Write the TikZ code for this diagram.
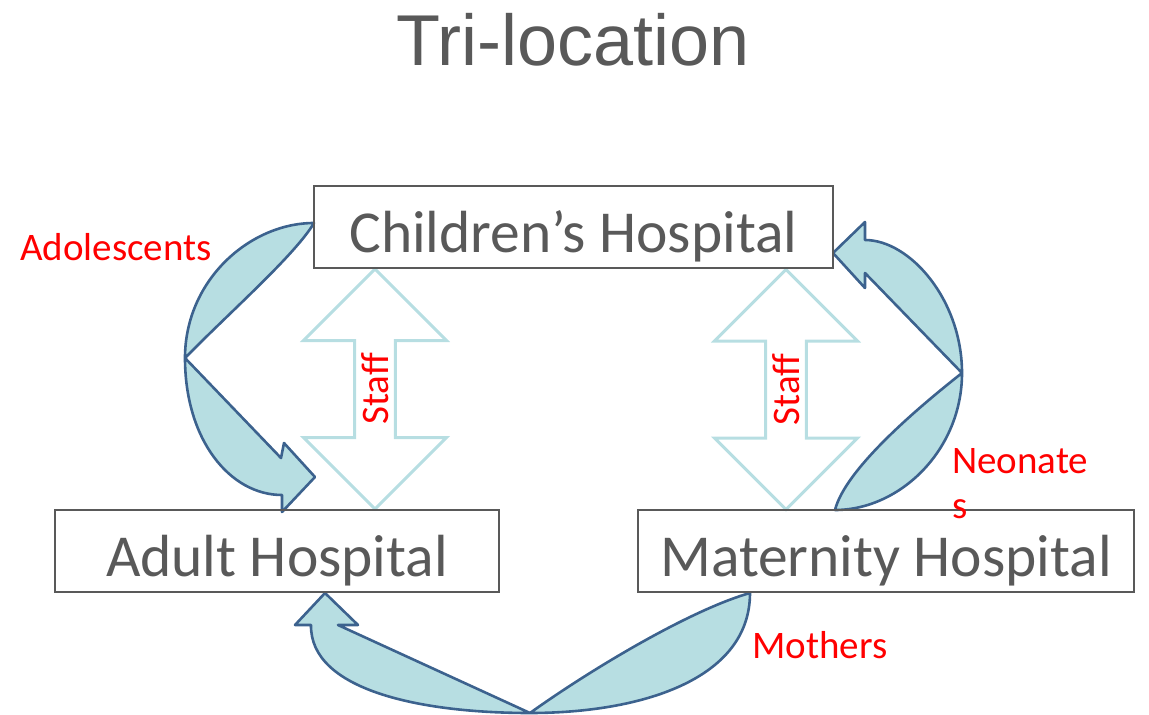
\documentclass[tikz,border=0pt]{standalone}
\usepackage{fontspec}
\setmainfont{Carlito}
\newfontfamily\titlefont{Liberation Sans}
\usetikzlibrary{shapes.arrows}
\definecolor{boxgray}{RGB}{89,89,89}
\definecolor{arrowfill}{RGB}{183,222,226}
\definecolor{arrowline}{RGB}{60,98,142}
\definecolor{staffline}{RGB}{183,222,226}
\begin{document}
\begin{tikzpicture}[x=1pt,y=1pt,yscale=-1,xscale=1,
hospbox/.style={draw=boxgray,line width=1.5pt,minimum height=82pt,text=boxgray,font=\fontsize{59.5}{62}\selectfont,text height=50pt,text depth=0pt,inner sep=0pt},
bendarrow/.style={draw=arrowline,fill=arrowfill,line width=2.6pt,line join=round},
staffarrow/.style={double arrow,draw=staffline,line width=3pt,minimum height=240pt,minimum width=143pt,double arrow head extend=38pt,rotate=90,text=red,font=\fontsize{39}{45}\selectfont,inner sep=0pt},
flowlabel/.style={text=red,font=\fontsize{39}{45}\selectfont,inner sep=0pt}]
\useasboundingbox (0,0) rectangle (1149,715);
\draw (573,65) node [anchor=base] (title) {\titlefont\fontsize{72}{76}\selectfont\color{boxgray}Tri-location};
\draw [bendarrow] (314,223) .. controls (250,223) and (185,280) .. (185,358) .. controls (185,440) and (230,495) .. (282,495) -- (282,512) -- (315,477) -- (284,443) -- (281,458) -- (185,358) .. controls (230,312) and (295,255) .. cycle ;
\draw [bendarrow] (833,253) -- (865,222) -- (865,240) .. controls (910,240) and (962,300) .. (962,373) .. controls (962,450) and (900,510) .. (835,510) .. controls (845,470) and (915,410) .. (962,373) -- (865,273) -- (865,288) -- cycle ;
\draw [bendarrow] (750,593) .. controls (750,680) and (640,713) .. (530,713) .. controls (420,713) and (310,690) .. (311,625) -- (295,625) -- (325,593) -- (358,625) -- (338,625) -- (530,713) .. controls (590,670) and (690,610) .. cycle ;
\node (stafflt) [staffarrow] at (375,389) {Staff};
\node (staffrt) [staffarrow] at (786,389.5) {Staff};
\node (children) [hospbox,minimum width=519pt] at (573.5,227) {Children’s Hospital};
\node (adult) [hospbox,minimum width=444pt] at (277,551) {Adult Hospital};
\node (maternity) [hospbox,minimum width=496pt] at (886,551) {Maternity Hospital};
\node (adolescents) [flowlabel] at (116,247) {Adolescents};
\node (neonates) [flowlabel,anchor=north west,align=left] at (952,448) {Neonate\\s};
\node (mothers) [flowlabel] at (820,645) {Mothers};
\end{tikzpicture}
\end{document}
